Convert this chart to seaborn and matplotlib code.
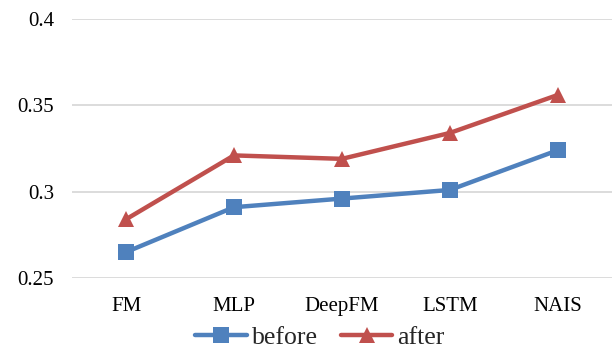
import matplotlib
matplotlib.use("Agg")
import matplotlib.pyplot as plt
import seaborn as sns
import pandas as pd

models = ["FM", "MLP", "DeepFM", "LSTM", "NAIS"]
before = [0.265, 0.291, 0.296, 0.301, 0.324]
after = [0.284, 0.321, 0.319, 0.334, 0.356]
yticks = [0.25, 0.3, 0.35, 0.4]
ytick_labels = ["0.25", "0.3", "0.35", "0.4"]

df = pd.DataFrame({
    "model": models * 2,
    "value": before + after,
    "series": ["before"] * len(models) + ["after"] * len(models),
})

sns.set_theme(style="white")
plt.rcParams["font.family"] = ["Liberation Serif", "DejaVu Serif"]

fig = plt.figure(figsize=(6.13, 3.49), dpi=100)
ax = fig.add_axes([0.1175, 0.2034, 0.8805, 0.7422])

palette = {"before": "#4F81BD", "after": "#C0504D"}
sns.lineplot(data=df, x="model", y="value", hue="series", style="series",
             markers={"before": "s", "after": "^"}, dashes=False,
             palette=palette, linewidth=3.2, markersize=11, markeredgewidth=0,
             ax=ax, sort=False)

ax.set_ylim(0.25, 0.4)
ax.set_xlim(-0.5, 4.5)
ax.set_yticks(yticks)
ax.set_yticklabels(ytick_labels)
ax.yaxis.grid(True, color="#D9D9D9", linewidth=1.3)
ax.set_axisbelow(True)
for s in ax.spines.values():
    s.set_visible(False)
ax.tick_params(axis="both", length=0, labelsize=15, colors="black")
ax.tick_params(axis="y", pad=13)
ax.tick_params(axis="x", pad=14)
ax.set_xlabel("")
ax.set_ylabel("")

handles, labels = ax.get_legend_handles_labels()
ax.legend(handles, labels, loc="center", bbox_to_anchor=(0.522, 0.034),
          bbox_transform=fig.transFigure,
          ncol=2, frameon=False, fontsize=18.5, handlelength=2.0,
          handletextpad=0.2, columnspacing=0.9, borderaxespad=0,
          borderpad=0)

fig.savefig("out.png", dpi=100)
